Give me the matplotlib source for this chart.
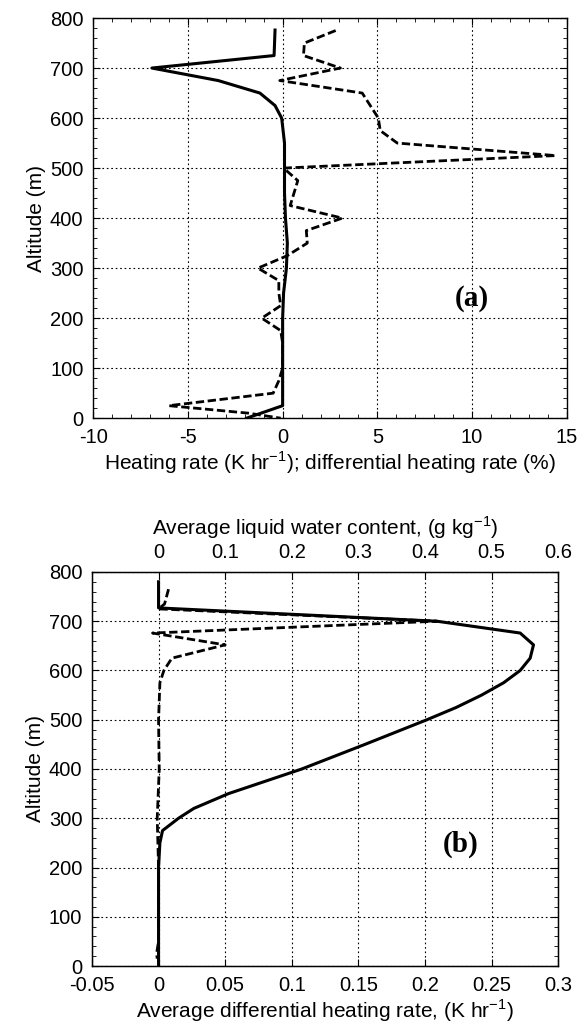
import matplotlib
matplotlib.use("Agg")
import matplotlib.pyplot as plt
from matplotlib.ticker import MultipleLocator

plt.rcParams['font.family'] = ['Liberation Sans', 'DejaVu Sans']
plt.rcParams['mathtext.fontset'] = 'custom'
plt.rcParams['mathtext.rm'] = 'Liberation Sans'
plt.rcParams['axes.unicode_minus'] = False

# (a) heating rate profile (K/hr)
alt_hr = [776, 725, 700, 675, 650, 625, 600, 550, 500, 450, 400, 350, 300, 250, 200, 150, 100, 50, 25, 0]
heat_rate = [-0.4, -0.45, -6.9, -3.4, -1.2, -0.4, -0.05, 0.1, 0.1, 0.1, 0.15, 0.25, 0.2, 0.05, 0.0, 0.0, 0.0, 0.0, 0.0, -1.9]

# (a) differential heating rate (%)
alt_dhr = [775, 750, 725, 700, 675, 650, 600, 575, 550, 525, 500, 475, 450, 425, 400, 375, 350, 325,
           300, 275, 250, 225, 200, 175, 150, 125, 100, 75, 50, 25, 10, 0]
diff_pct = [2.8, 1.15, 1.1, 3.05, -0.15, 4.2, 5.05, 5.15, 6.05, 14.4, 0.05, 0.8, 0.6, 0.4, 3.15, 1.25, 1.3, 0.25,
            -1.3, -0.2, -0.2, -0.1, -1.1, -0.1, 0.0, 0.0, 0.0, -0.2, -0.5, -6.0, -1.8, -0.1]

# (b) average liquid water content (g/kg)
alt_lwc = [780, 727, 700, 676, 652, 625, 600, 575, 550, 525, 500, 450, 400, 350, 320, 300, 275, 250, 200, 100, 0]
lwc = [0, 0, 0.418, 0.543, 0.563, 0.558, 0.543, 0.518, 0.485, 0.447, 0.403, 0.31, 0.215, 0.105, 0.053, 0.03,
       0.006, 0.002, 0, 0, 0]

# (b) average differential heating rate (K/hr)
alt_adh = [765, 735, 725, 700, 676, 652, 625, 600, 575, 500, 400, 300, 200, 100, 50, 25, 15]
avg_diff = [0.0075, 0.0045, 0.0, 0.209, -0.0045, 0.05, 0.01, 0.004, 0.001, 0.0, 0.0005, -0.001, 0.0, 0.0, 0.0,
            -0.0015, -0.001]

TICK_FS = 14.5
LABEL_FS = 15

fig = plt.figure(figsize=(5.82, 10.30), dpi=100)

def style(ax):
    ax.grid(True, color='black', linestyle=(0, (1.5, 2.5)), linewidth=0.8)
    ax.tick_params(direction='in', which='both', top=True, right=True, labelsize=TICK_FS, pad=7)
    ax.tick_params(which='major', length=5)
    ax.tick_params(which='minor', length=3)
    for s in ax.spines.values():
        s.set_linewidth(1.0)

# ---- panel (a)
ax1 = fig.add_axes([0.160, 0.594, 0.814, 0.3885])
ax1.plot(heat_rate, alt_hr, color='black', linewidth=2.2)
ax1.plot(diff_pct, alt_dhr, color='black', linewidth=2.0, dashes=(3, 1.3))
ax1.set_xlim(-10, 15)
ax1.set_ylim(0, 800)
ax1.xaxis.set_major_locator(MultipleLocator(5))
ax1.xaxis.set_minor_locator(MultipleLocator(1))
ax1.yaxis.set_major_locator(MultipleLocator(100))
ax1.yaxis.set_minor_locator(MultipleLocator(20))
style(ax1)
ax1.set_xlabel('Heating rate (K hr$^{-1}$); differential heating rate (%)', fontsize=LABEL_FS, labelpad=2)
ax1.set_ylabel('Altitude (m)', fontsize=LABEL_FS, labelpad=3)
ax1.text(0.8, 0.3, '(a)', transform=ax1.transAxes, fontsize=21, fontweight='bold',
         family='Liberation Serif', ha='center', va='center')

# ---- panel (b)
ax2 = fig.add_axes([0.158, 0.0621, 0.801, 0.3826])
ax2.plot(avg_diff, alt_adh, color='black', linewidth=2.0, dashes=(3, 1.3))
ax2.set_xlim(-0.05, 0.3)
ax2.set_ylim(0, 800)
ax2.yaxis.set_major_locator(MultipleLocator(100))
ax2.yaxis.set_minor_locator(MultipleLocator(20))
ax2.set_xticks([-0.05, 0, 0.05, 0.1, 0.15, 0.2, 0.25, 0.3])
ax2.set_xticklabels(['-0.05', '0', '0.05', '0.1', '0.15', '0.2', '0.25', '0.3'])
style(ax2)
ax2.tick_params(top=False)
ax2.set_xlabel('Average differential heating rate, (K hr$^{-1}$)', fontsize=LABEL_FS, labelpad=2)
ax2.set_ylabel('Altitude (m)', fontsize=LABEL_FS, labelpad=3)
ax2.text(0.79, 0.31, '(b)', transform=ax2.transAxes, fontsize=21, fontweight='bold',
         family='Liberation Serif', ha='center', va='center')

ax3 = ax2.twiny()
ax3.plot(lwc, alt_lwc, color='black', linewidth=2.2)
ax3.set_xlim(-0.1, 0.6)
ax3.set_xticks([0, 0.1, 0.2, 0.3, 0.4, 0.5, 0.6])
ax3.set_xticklabels(['0', '0.1', '0.2', '0.3', '0.4', '0.5', '0.6'])
ax3.tick_params(direction='in', labelsize=TICK_FS, length=5, pad=7)
ax3.set_xlabel('Average liquid water content, (g kg$^{-1}$)', fontsize=LABEL_FS, labelpad=6)

fig.savefig('out.png', dpi=100)
